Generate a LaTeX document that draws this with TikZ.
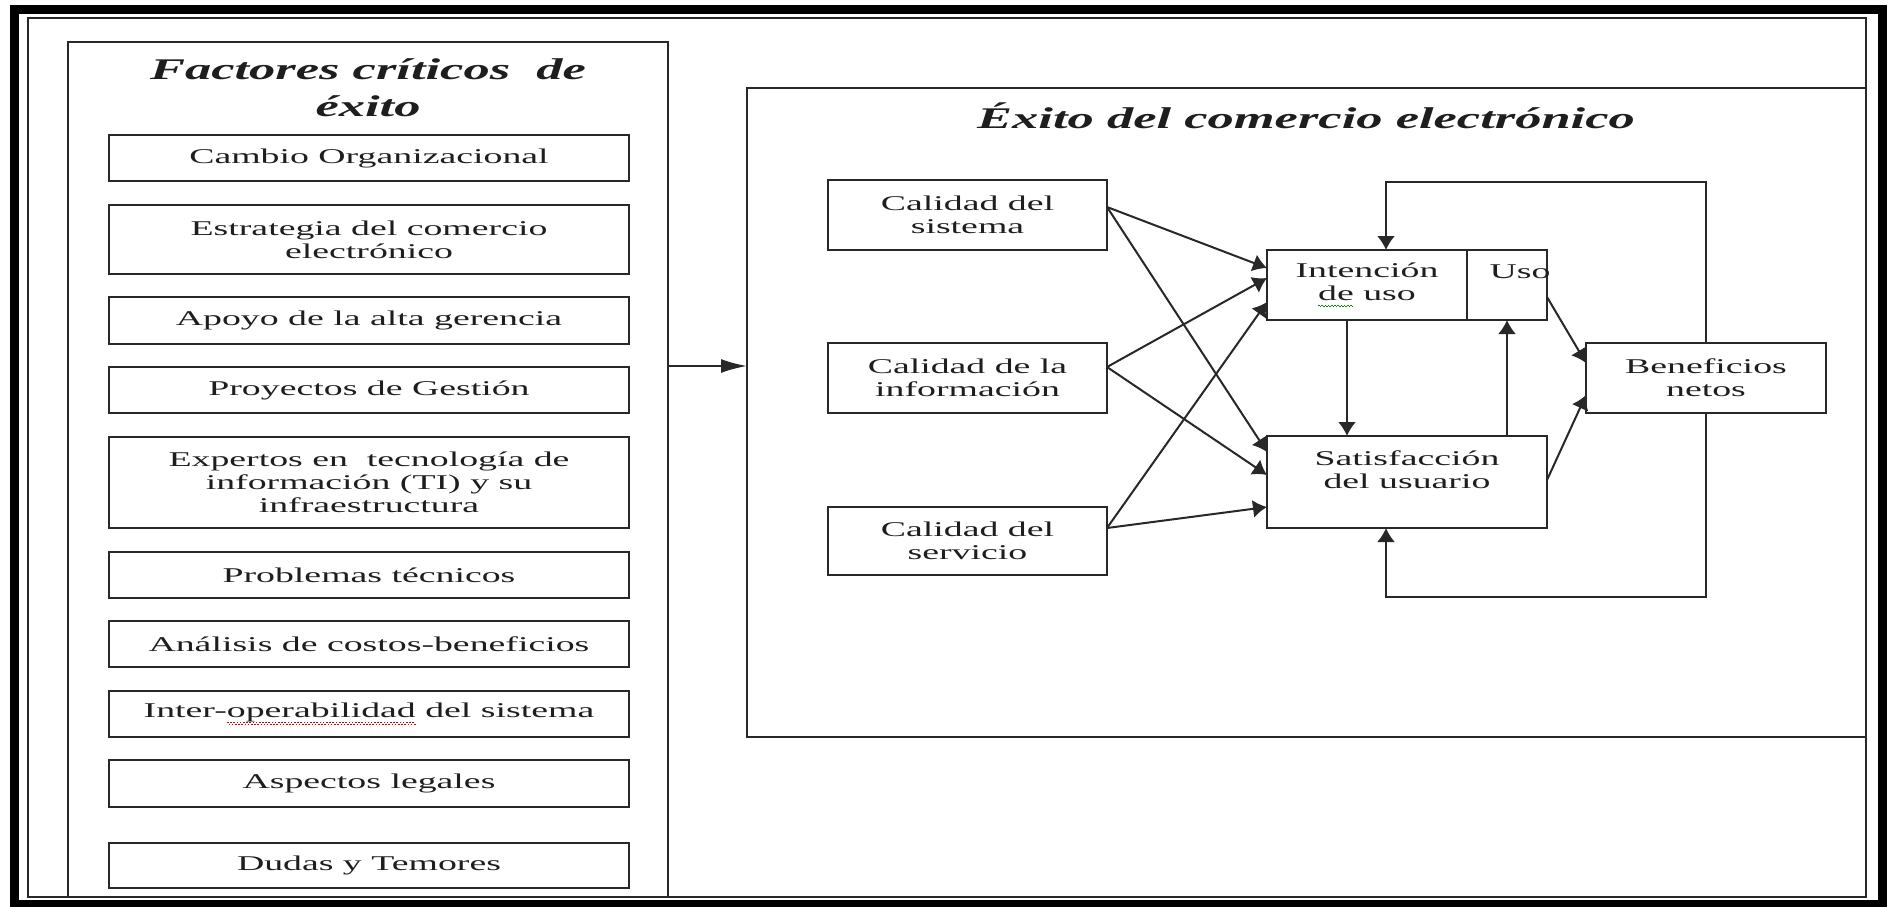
\documentclass[tikz,border=0pt]{standalone}
\usepackage{fontspec}
\setmainfont{Liberation Serif}
\newfontfamily\bodyfam[FakeStretch=1.8]{Liberation Serif}
\newfontfamily\titlefam[FakeStretch=1.75]{Liberation Serif}
\usetikzlibrary{calc,arrows.meta}
\definecolor{linec}{RGB}{40,40,40}
\definecolor{txtc}{RGB}{30,30,30}
\newcommand\bdyfont{\bodyfam\fontsize{10.5pt}{11.5pt}\selectfont}
\newcommand\ttlfont{\titlefam\fontsize{15pt}{18.5pt}\selectfont\bfseries\itshape}
\newsavebox\sqbox
\newcommand\squig[2]{\sbox\sqbox{#2}\rlap{\hbox to \wd\sqbox{\color{#1}\leaders\hbox{\rule[-2.6pt]{0.8pt}{0.5pt}\rule[-3.3pt]{0.8pt}{0.5pt}}\hfill}}\usebox\sqbox}
\begin{document}
\begin{tikzpicture}[x=0.5pt,y=-0.5pt,
  fbox/.style={draw=linec, line width=1.2pt, inner sep=0pt, outer sep=0pt, align=center, font=\bdyfont, text=txtc, anchor=north west, minimum width=260pt},
  rbox/.style={draw=linec, line width=1.2pt, inner sep=0pt, outer sep=0pt, align=center, font=\bdyfont, text=txtc, anchor=north west},
  txt/.style={font=\bdyfont, text=txtc, align=center, inner sep=0pt},
  panel/.style={draw=linec, line width=1.1pt, anchor=north west, inner sep=0pt, outer sep=0pt},
  arr/.style={draw=linec, line width=1pt, -{Latex[length=7pt,width=9pt]}},
  bigarr/.style={draw=linec, line width=1pt, -{Latex[length=13pt,width=7pt]}},
  ttl/.style={font=\ttlfont, text=txtc, align=center, inner sep=0pt}
]
\fill[white] (0,0) rectangle (1892,906);
\path[use as bounding box] (0,0) rectangle (1892,906);

% outer frame
\draw[black, line width=4.5pt] (14,9) rectangle (1882,904);
\draw[linec, line width=1.2pt] (28,18) rectangle (1866,897);

% panels
\node[panel, minimum width=300pt, minimum height=427.5pt] (lp) at (68,42) {};
\node[panel, minimum width=559.5pt, minimum height=324.5pt] (rp) at (747,88) {};

% titles
\node[ttl, anchor=center] (t1) at (368,88) {Factores críticos~ de\\éxito};
\node[ttl, anchor=base] (t2) at (1306,128) {Éxito del comercio electrónico};

% left factor boxes
\node[fbox, minimum height=23pt] (b1) at (109,135) {Cambio Organizacional};
\node[fbox, minimum height=34.5pt] (b2) at (109,205) {Estrategia del comercio\\electrónico};
\node[fbox, minimum height=23.5pt] (b3) at (109,297) {Apoyo de la alta gerencia};
\node[fbox, minimum height=23pt] (b4) at (109,367) {Proyectos de Gestión};
\node[fbox, minimum height=45.5pt] (b5) at (109,437) {Expertos en~ tecnología de\\información (TI) y su\\infraestructura};
\node[fbox, minimum height=23pt] (b6) at (109,552) {Problemas técnicos};
\node[fbox, minimum height=23pt] (b7) at (109,621) {Análisis de costos-beneficios};
\node[fbox, minimum height=23pt] (b8) at (109,691) {Inter-\squig{red!85!black}{operabilidad} del sistema};
\node[fbox, minimum height=23.5pt] (b9) at (109,760) {Aspectos legales};
\node[fbox, minimum height=22.5pt] (b10) at (109,843) {Dudas y Temores};

% right model boxes
\node[rbox, minimum width=139.5pt, minimum height=35pt] (sis) at (828,180) {Calidad del\\sistema};
\node[rbox, minimum width=139.5pt, minimum height=35pt] (inf) at (828,343) {Calidad de la\\información};
\node[rbox, minimum width=139.5pt, minimum height=34pt] (ser) at (828,507) {Calidad del\\servicio};
\node[rbox, minimum width=100pt, minimum height=35pt] (int) at (1267,250) {Intención\\\squig{green!55!black}{de} uso};
\node[rbox, minimum width=40pt, minimum height=35pt] (uso) at (1467,250) {};
\node[txt, anchor=base east] (usot) at (1551,278) {Uso};
\node[rbox, minimum width=140pt, minimum height=46pt] (sat) at (1267,436) {};
\node[txt] (satt) at (1407,470) {Satisfacción\\del usuario};
\node[rbox, minimum width=120pt, minimum height=35pt] (ben) at (1586,343) {Beneficios\\netos};

% connectors
\draw[bigarr] ($(lp.east)+(0,-103.5)$) -- ($(rp.west)+(0,-46.5)$);
\draw[arr] ($(sis.east)+(0,-8)$) -- ($(int.west)+(0,-17)$);
\draw[arr] ($(sis.east)+(0,-8)$) -- ($(sat.west)+(0,-30)$);
\draw[arr] ($(inf.east)+(0,-11)$) -- ($(int.west)+(0,-7)$);
\draw[arr] ($(inf.east)+(0,-11)$) -- ($(sat.west)+(0,-7)$);
\draw[arr] ($(ser.east)+(0,-13)$) -- ($(int.west)+(0,17)$);
\draw[arr] ($(ser.east)+(0,-13)$) -- ($(sat.west)+(0,25)$);
\draw[arr] ($(int.south west)+(80,0)$) -- ($(sat.north west)+(80,0)$);
\draw[arr] (uso.south |- sat.north) -- (uso.south);
\draw[arr] ($(uso.east)+(0,12)$) -- ($(ben.west)+(0,-15)$);
\draw[arr] ($(sat.east)+(0,-2)$) -- ($(ben.west)+(0,17)$);
\draw[arr] (ben.north) -- ++(0,-161) -| ($(int.north)+(19,0)$);
\draw[arr] (ben.south) -- ++(0,184) -| ($(sat.south)+(-21,0)$);
\end{tikzpicture}
\end{document}
